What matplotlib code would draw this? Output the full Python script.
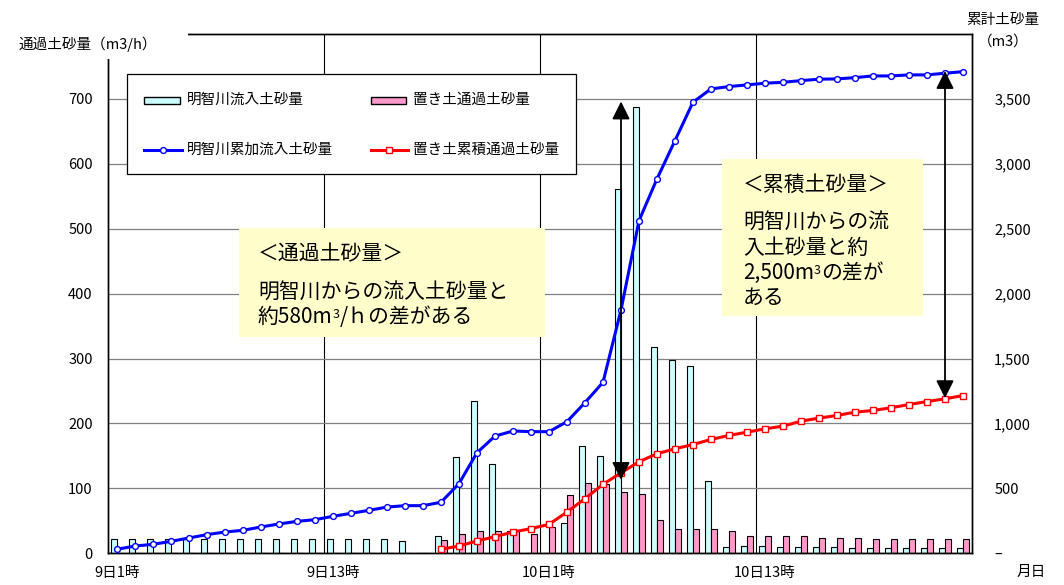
import matplotlib
matplotlib.use('Agg')
import matplotlib.pyplot as plt
from matplotlib.patches import Rectangle
from matplotlib.lines import Line2D

plt.rcParams['font.family'] = ['Noto Sans CJK JP', 'DejaVu Sans']

# ---- data ----
hours = list(range(48))  # 9日1時 ... 10日24時 (hourly)
tick_pos = [0, 12, 24, 36]
tick_labels = ['9日1時', '9日13時', '10日1時', '10日13時']

inflow = [22, 22, 22, 22, 22, 22, 22, 22, 22, 22, 22, 22, 22, 22, 22, 22,
          19, 0, 26, 148, 234, 137, 35, 0, 0, 47, 166, 150, 561, 687, 318, 298,
          289, 111, 10, 12, 12, 10, 10, 10, 10, 8, 8, 8, 8, 8, 8, 8]
passing = [0, 0, 0, 0, 0, 0, 0, 0, 0, 0, 0, 0, 0, 0, 0, 0, 0, 0,
           20, 29, 34, 35, 34, 29, 40, 90, 108, 106, 95, 91, 52, 38, 38, 38,
           34, 26, 26, 26, 26, 24, 24, 24, 22, 22, 22, 22, 22, 22]
inflow_cum = [31, 56, 69, 92, 118, 144, 164, 177, 203, 226, 246, 259, 285, 308,
              331, 356, 367, 367, 393, 537, 775, 903, 942, 937, 937, 1014, 1161,
              1317, 1874, 2562, 2884, 3179, 3475, 3577, 3595, 3608, 3621, 3628,
              3641, 3652, 3654, 3664, 3677, 3677, 3685, 3685, 3698, 3710]
passing_start = 18
passing_cum = [31, 56, 95, 128, 164, 190, 223, 318, 421, 531, 620, 705, 767, 805,
               838, 877, 908, 933, 959, 979, 1018, 1041, 1062, 1087, 1100, 1121,
               1146, 1169, 1190, 1215]

left_ticks = [0, 100, 200, 300, 400, 500, 600, 700]
right_ticks = [0, 500, 1000, 1500, 2000, 2500, 3000, 3500]
right_tick_labels = ['–', '500', '1,000', '1,500', '2,000', '2,500', '3,000', '3,500']

# arrows (x category, from, to in cumulative units)
arrow1 = (28, 565, 3480)
arrow2 = (46, 1195, 3715)

W, H = 1064, 585
fig = plt.figure(figsize=(W / 100, H / 100), dpi=100)
ax = fig.add_axes([108 / W, 1 - 553.3 / H, 864 / W, (553.3 - 34) / H])
ax2 = ax.twinx()

bw = 0.36
ax.bar([h - bw / 2 for h in hours], inflow, width=bw, color='#CCFFFF',
       edgecolor='black', linewidth=0.8, zorder=2)
ax.bar([h + bw / 2 for h in hours], passing, width=bw, color='#FF99CC',
       edgecolor='black', linewidth=0.8, zorder=2)

ax.set_xlim(-0.5, 47.5)
ax.set_ylim(0, 800)
ax.set_yticks(left_ticks)
ax.set_yticklabels([str(v) for v in left_ticks])
ax.set_xticks(tick_pos)
ax.set_xticklabels(tick_labels)
ax.set_xticks([11.5, 23.5, 35.5], minor=True)
ax.set_axisbelow(True)
ax.yaxis.grid(True, color='#808080', linewidth=0.9)
ax.xaxis.grid(True, which='minor', color='black', linewidth=0.8)
ax.tick_params(axis='y', length=0, pad=11, labelsize=10.5)
ax.tick_params(axis='x', which='both', length=0, pad=9, labelsize=10.5)
for s in ax.spines.values():
    s.set_color('black')
    s.set_linewidth(1.0)

ax2.set_ylim(0, 4000)
ax2.set_yticks(right_ticks)
ax2.set_yticklabels(right_tick_labels)
ax2.tick_params(axis='y', length=0, pad=16, labelsize=10.5)
for s in ax2.spines.values():
    s.set_color('black')
    s.set_linewidth(1.0)

ax2.plot(hours, inflow_cum, color='#0000FF', lw=2.2, marker='o', ms=4.2,
         mfc='white', mec='#0000FF', mew=1.0, zorder=3)
ax2.plot(hours[passing_start:], passing_cum, color='#FF0000', lw=2.2,
         marker='s', ms=4.2, mfc='white', mec='#FF0000', mew=1.0, zorder=3)

for (xa, y0, y1) in (arrow1, arrow2):
    ax2.annotate('', xy=(xa, y1), xytext=(xa, y0),
                 arrowprops=dict(arrowstyle='<|-|>,head_length=0.6,head_width=0.3',
                                 color='black', lw=1.3, mutation_scale=18,
                                 shrinkA=0, shrinkB=0), zorder=4)

# ---- overlay in pixel coordinates ----
ov = fig.add_axes([0, 0, 1, 1], zorder=10)
ov.set_xlim(0, W)
ov.set_ylim(H, 0)
ov.axis('off')

# axis titles
ov.add_patch(Rectangle((10, 24), 178, 35, fc='white', ec='none'))
ov.text(19, 44, '通過土砂量（m3/h）', ha='left', va='center', fontsize=10.5)
ov.text(1003, 20, '累計土砂量', ha='center', va='center', fontsize=10.5)
ov.text(1003, 42, '（m3）', ha='center', va='center', fontsize=10.5)
ov.text(1031, 572, '月日', ha='center', va='center', fontsize=10.5)

# legend
ov.add_patch(Rectangle((127, 74), 449, 100, fc='white', ec='black', lw=0.9))
ov.add_patch(Rectangle((144, 96.5), 36, 7, fc='#CCFFFF', ec='black', lw=1.0))
ov.add_patch(Rectangle((371, 96.5), 35, 7, fc='#FF99CC', ec='black', lw=1.0))
ov.add_line(Line2D([144, 182], [150, 150], color='#0000FF', lw=2.2))
ov.add_line(Line2D([163], [150], color='#0000FF', marker='o', ms=4.2, mfc='white',
                   mec='#0000FF', mew=1.0))
ov.add_line(Line2D([371, 408], [150, 150], color='#FF0000', lw=2.2))
ov.add_line(Line2D([389], [150], color='#FF0000', marker='s', ms=4.2, mfc='white',
                   mec='#FF0000', mew=1.0))
ov.text(187, 100, '明智川流入土砂量', ha='left', va='center', fontsize=10.5)
ov.text(413, 100, '置き土通過土砂量', ha='left', va='center', fontsize=10.5)
ov.text(187, 150, '明智川累加流入土砂量', ha='left', va='center', fontsize=10.5)
ov.text(413, 150, '置き土累積通過土砂量', ha='left', va='center', fontsize=10.5)


def text_with_sup(x, y, before, sup, after, size=15):
    t1 = ov.text(x, y, before, ha='left', va='center', fontsize=size)
    t2 = ov.annotate(sup, xy=(1.0, 0.92), xycoords=t1, ha='left', va='top',
                     fontsize=size * 0.6)
    ov.annotate(after, xy=(1.0, 0.5), xycoords=(t2, t1), ha='left',
                va='center', fontsize=size)


# note boxes
ov.add_patch(Rectangle((239, 228), 306, 109, fc='#FFFFCC', ec='none'))
ov.text(258, 254, '＜通過土砂量＞', ha='left', va='center', fontsize=15)
ov.text(258, 292, '明智川からの流入土砂量と', ha='left', va='center', fontsize=15)
text_with_sup(258, 317, '約580m', '3', '/ｈの差がある')

ov.add_patch(Rectangle((722, 159), 201, 157, fc='#FFFFCC', ec='none'))
ov.text(743, 185, '＜累積土砂量＞', ha='left', va='center', fontsize=15)
ov.text(743, 222, '明智川からの流', ha='left', va='center', fontsize=15)
ov.text(743, 248, '入土砂量と約', ha='left', va='center', fontsize=15)
text_with_sup(743, 273, '2,500m', '3', 'の差が')
ov.text(743, 298, 'ある', ha='left', va='center', fontsize=15)

fig.savefig('out.png', dpi=100)
